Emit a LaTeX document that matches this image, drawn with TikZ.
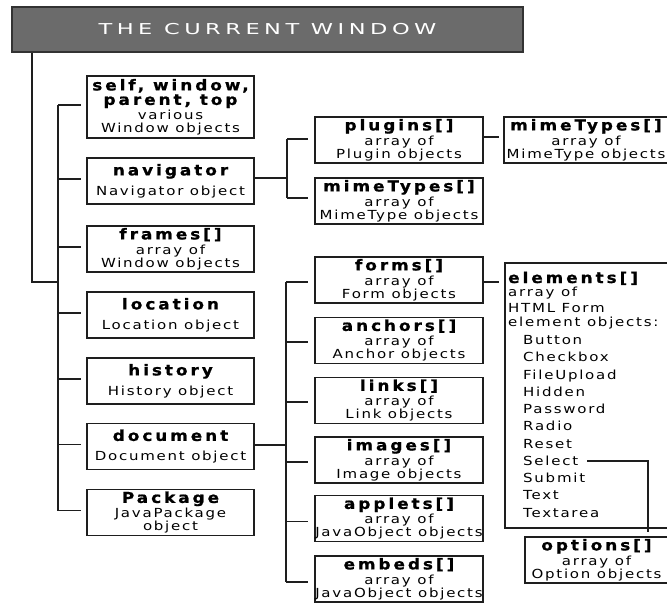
\documentclass[tikz,border=0pt]{standalone}
\usepackage{fontspec}
\newfontfamily\titlefont{DejaVu Sans}[FakeStretch=1.5,LetterSpace=30]
\newfontfamily\headfont{DejaVu Sans}[FakeStretch=1.12,LetterSpace=20,FakeBold=1]
\newfontfamily\bodyfont{DejaVu Sans}[FakeStretch=1.2,LetterSpace=14]
\newcommand\hdtxt[1]{{\headfont\bfseries\fontsize{15}{13}\selectfont #1}}
\definecolor{bargray}{HTML}{6B6B6B}
\definecolor{ink}{HTML}{1E1E1E}

\tikzset{
  ln/.style={draw=ink, line width=1.6pt},
  obj/.style={draw=ink, line width=1.6pt, fill=white, inner sep=0pt,
    minimum width=167pt, minimum height=46pt, align=center, text=black,
    font=\bodyfont\fontsize{12.5}{13}\selectfont},
  objm/.style={obj, minimum width=168pt},
  txt/.style={inner sep=0pt, anchor=base west, text=black,
    font=\bodyfont\fontsize{12.5}{13}\selectfont},
}

\begin{document}
\begin{tikzpicture}[x=1pt, y=-1pt]
\useasboundingbox (0,0) rectangle (667,603);

% title bar
\node[fill=bargray, draw=black!80, line width=1.2pt, minimum width=511pt,
  minimum height=45pt, inner sep=0pt, text=white,
  font=\titlefont\fontsize{15}{15}\selectfont] (title) at (267.5,29.5)
  {THE CURRENT WINDOW};

% window properties
\node[obj, minimum height=62pt] (self) at (170.5,107)
  {\hdtxt{self, window,}\\[1.5pt]\hdtxt{parent, top}\\[1.5pt]various\\Window objects};
\node[obj] (nav) at (170.5,181) {\hdtxt{navigator}\\[7pt]Navigator object};
\node[obj] (frames) at (170.5,249) {\hdtxt{frames[]}\\[2pt]array of\\Window objects};
\node[obj] (loc) at (170.5,315) {\hdtxt{location}\\[7pt]Location object};
\node[obj] (hist) at (170.5,381) {\hdtxt{history}\\[7pt]History object};
\node[obj] (doc) at (170.5,446.5) {\hdtxt{document}\\[7pt]Document object};
\node[obj] (pkg) at (170.5,512.5) {\hdtxt{Package}\\[2pt]JavaPackage\\object};

% navigator and document properties
\node[objm] (plug) at (399,140) {\hdtxt{plugins[]}\\[2pt]array of\\Plugin objects};
\node[objm] (mime) at (399,201) {\hdtxt{mimeTypes[]}\\[2pt]array of\\MimeType objects};
\node[objm] (forms) at (399,280) {\hdtxt{forms[]}\\[2pt]array of\\Form objects};
\node[objm] (anch) at (399,340.5) {\hdtxt{anchors[]}\\[2pt]array of\\Anchor objects};
\node[objm] (links) at (399,400.5) {\hdtxt{links[]}\\[2pt]array of\\Link objects};
\node[objm] (imgs) at (399,460) {\hdtxt{images[]}\\[2pt]array of\\Image objects};
\node[objm] (apps) at (399,518.5) {\hdtxt{applets[]}\\[2pt]array of\\JavaObject objects};
\node[objm] (embs) at (399,579) {\hdtxt{embeds[]}\\[2pt]array of\\JavaObject objects};

% third level
\node[obj, minimum width=164pt] (mime2) at (586,140)
  {\hdtxt{mimeTypes[]}\\[2pt]array of\\MimeType objects};
\node[obj, minimum width=163pt, minimum height=265pt] (elem) at (586.5,395.5) {};
\node[obj, minimum width=143pt] (opts) at (596.5,560)
  {\hdtxt{options[]}\\[2pt]array of\\Option objects};

% contents of the elements box
\node[txt, font=\headfont\bfseries\fontsize{15}{13}\selectfont] (el-h) at (508,283) {elements[]};
\node[txt] (el-a) at (508,296.5) {array of};
\node[txt] (el-b) at (508,312.5) {HTML Form};
\node[txt] (el-c) at (508,326.5) {element objects:};
\foreach \nm/\lbl [count=\k from 0] in
  {btn/Button, chk/Checkbox, fup/FileUpload, hid/Hidden, pwd/Password,
   rad/Radio, rst/Reset, sel/Select, sub/Submit, txa/Text, tar/Textarea}
  \node[txt] (\nm) at (523,{344.5+17.27*\k}) {\lbl};

% trunk and left bus
\coordinate (tk) at (32,282);
\coordinate (bus) at (58,282);
\draw[ln] (title.south -| tk) -- (tk) -- (bus);
\draw[ln] ([yshift=2pt]self.west -| bus) -- ([yshift=2pt]pkg.west -| bus);
\foreach \n in {self,nav,frames,loc,hist,doc,pkg}
  \draw[ln] ([yshift=2pt]\n.west -| bus) -- ([xshift=-5pt,yshift=2pt]\n.west);

% navigator branch
\coordinate (nbus) at (287,0);
\draw[ln] ([yshift=3pt]nav.east) -- ([yshift=3pt]nav.east -| nbus);
\draw[ln] ([yshift=1pt]plug.west -| nbus) -- ([yshift=3pt]mime.west -| nbus);
\draw[ln] ([yshift=1pt]plug.west -| nbus) -- ([xshift=-6pt,yshift=1pt]plug.west);
\draw[ln] ([yshift=3pt]mime.west -| nbus) -- ([xshift=-6pt,yshift=3pt]mime.west);
\draw[ln] ([yshift=3pt]plug.east) -- ([xshift=-4pt,yshift=3pt]plug.east -| mime2.west);

% document branch
\coordinate (dbus) at (286,0);
\draw[ln] ([yshift=1.5pt]doc.east) -- ([yshift=1.5pt]doc.east -| dbus);
\draw[ln] ([yshift=-2pt]forms.west -| dbus) -- ([yshift=-3pt]embs.west -| dbus);
\foreach \n/\s in {forms/-2pt,anch/-1.5pt,links/-1.5pt,imgs/-2pt,apps/-3pt,embs/-3pt}
  \draw[ln] ([yshift=\s]\n.west -| dbus) -- ([xshift=-6pt,yshift=\s]\n.west);
\draw[ln] ([yshift=-2pt]forms.east) -- ([xshift=-5pt,yshift=-2pt]forms.east -| elem.west);

% Select leads to the options array
\coordinate (selx) at (648,0);
\draw[ln] ([xshift=9pt]sel.east) -- (sel.east -| selx) -- ([yshift=4pt]opts.north -| selx);
\end{tikzpicture}
\end{document}
